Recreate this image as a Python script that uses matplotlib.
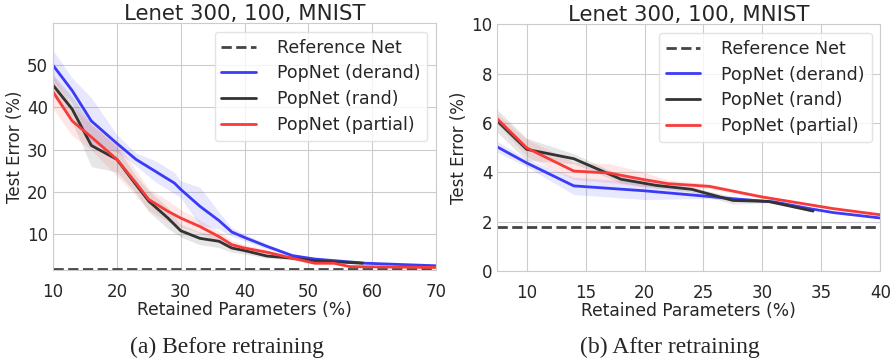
import matplotlib
matplotlib.use("Agg")
import matplotlib.pyplot as plt
import seaborn as sns
import numpy as np

sns.set_style("whitegrid")
plt.rcParams['font.family'] = ['DejaVu Sans']

reference_err = 1.8

# (a) before retraining
before_derand_x = [10, 13, 16, 20, 23, 26, 29, 30, 33, 36, 38, 40, 43.5, 47.5, 51, 59, 70]
before_derand_y = [50, 44, 36.8, 31.5, 27.7, 24.9, 22.1, 20.6, 16.6, 13.2, 10.5, 9.2, 7.1, 4.9, 4.1, 3.1, 2.5]
before_derand_s = [3.5, 3.0, 5.5, 2.0, 1.5, 2.5, 2.5, 2.0, 4.5, 2.0, 1.0, 0.8, 0.6, 0.4, 0.3, 0.2, 0.2]

before_rand_x = [10, 13, 16, 20, 23, 25, 28, 30, 33, 36, 38, 40, 43.5, 47.5, 51, 58.5]
before_rand_y = [45.3, 39.6, 31.0, 27.7, 21.7, 17.8, 13.8, 10.8, 9.0, 8.3, 6.7, 6.1, 4.8, 4.3, 3.7, 3.1]
before_rand_s = [2.5, 3.0, 5.0, 3.0, 2.0, 2.5, 2.5, 1.5, 1.5, 1.5, 1.0, 0.8, 0.5, 0.4, 0.3, 0.2]

before_partial_x = [10, 13, 16, 20, 23, 25, 28, 30, 33, 36, 38, 40, 43.5, 47.5, 51, 54, 56.5, 70]
before_partial_y = [43.7, 36.8, 33.0, 27.7, 22.1, 18.2, 15.4, 13.8, 11.8, 9.4, 7.5, 6.7, 5.7, 4.3, 3.1, 3.1, 2.3, 2.1]
before_partial_s = [4.0, 3.5, 3.0, 4.0, 3.0, 2.5, 2.5, 2.0, 1.5, 1.2, 1.0, 0.8, 0.6, 0.4, 0.3, 0.3, 0.2, 0.2]

# (b) after retraining
after_derand_x = [7.5, 10, 14, 20, 25, 27.5, 31, 34, 36, 40]
after_derand_y = [5.03, 4.38, 3.45, 3.25, 3.04, 2.93, 2.8, 2.53, 2.37, 2.15]
after_derand_s = [0.22, 0.15, 0.35, 0.35, 0.1, 0.06, 0.05, 0.04, 0.03, 0.03]

after_rand_x = [7.5, 10, 14, 18, 21, 24, 27.5, 30.5, 34.3]
after_rand_y = [6.08, 4.93, 4.55, 3.72, 3.47, 3.31, 2.86, 2.82, 2.43]
after_rand_s = [0.45, 0.45, 0.2, 0.15, 0.12, 0.1, 0.15, 0.05, 0.04]

after_partial_x = [7.5, 10, 14, 17, 20, 22, 25.5, 30, 36, 40]
after_partial_y = [6.17, 4.99, 4.05, 3.97, 3.7, 3.54, 3.43, 3.0, 2.53, 2.28]
after_partial_s = [0.2, 0.35, 0.35, 0.38, 0.3, 0.15, 0.1, 0.05, 0.04, 0.04]

col_derand = "#3b3bf7"
col_rand = "#333333"
col_partial = "#f73b3b"
col_ref = "#444444"

fig = plt.figure(figsize=(8.91, 3.6), dpi=100)
ax1 = fig.add_axes([0.0595, 0.25, 0.430, 0.686])
ax2 = fig.add_axes([0.558, 0.247, 0.430, 0.686])


def draw(ax, series, xlim):
    ax.plot(xlim, [reference_err, reference_err], "--", color=col_ref, lw=2, label="Reference Net")
    for x, y, s, c, lab in series:
        x = np.array(x); y = np.array(y); s = np.array(s)
        ax.fill_between(x, y - s, y + s, color=c, alpha=0.12, lw=0)
        ax.plot(x, y, color=c, lw=2, label=lab)
    ax.set_xlim(xlim)
    ax.set_title("Lenet 300, 100, MNIST", fontsize=15.3, pad=2)
    ax.set_xlabel("Retained Parameters (%)", fontsize=12.3, labelpad=0)
    ax.set_ylabel("Test Error (%)", fontsize=12, labelpad=2)
    ax.tick_params(labelsize=12)
    ax.tick_params(axis="x", pad=6)
    ax.tick_params(axis="y", length=0, pad=3.5)
    leg = ax.legend(loc="upper right", fontsize=12.5, frameon=True, fancybox=True,
                    borderpad=0.4, labelspacing=0.45, handletextpad=1.2)
    leg.get_frame().set_edgecolor("#dddddd")
    for sp in ax.spines.values():
        sp.set_color("#cccccc")


draw(ax1, [
    (before_derand_x, before_derand_y, before_derand_s, col_derand, "PopNet (derand)"),
    (before_rand_x, before_rand_y, before_rand_s, col_rand, "PopNet (rand)"),
    (before_partial_x, before_partial_y, before_partial_s, col_partial, "PopNet (partial)"),
], [10, 70])
ax1.set_ylim(1.5, 60)
ax1.set_yticks([10, 20, 30, 40, 50])

draw(ax2, [
    (after_derand_x, after_derand_y, after_derand_s, col_derand, "PopNet (derand)"),
    (after_rand_x, after_rand_y, after_rand_s, col_rand, "PopNet (rand)"),
    (after_partial_x, after_partial_y, after_partial_s, col_partial, "PopNet (partial)"),
], [7.5, 40])
ax2.set_ylim(0, 10)
ax2.set_xticks([10, 15, 20, 25, 30, 35, 40])

fig.text(227 / 891, 1 - 347 / 360, "(a) Before retraining", ha="center", va="center",
         fontsize=17, family="Liberation Serif")
fig.text(670 / 891, 1 - 347 / 360, "(b) After retraining", ha="center", va="center",
         fontsize=17, family="Liberation Serif")

fig.savefig("out.png", dpi=100)
